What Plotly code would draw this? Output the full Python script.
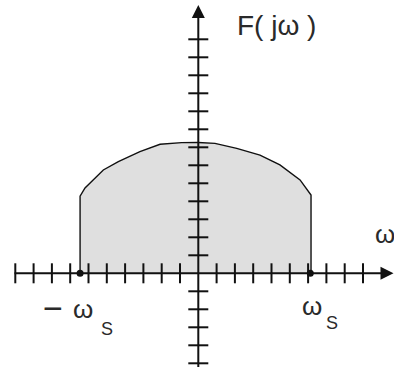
import plotly.graph_objects as go

# Spectrum |F(jω)| of a band-limited signal, in tick units
omega = [-6.46, -6.46, -6.19, -5.19, -4.37, -3.19, -2.09, -0.91, 0.0,
         0.91, 2.10, 3.37, 4.46, 5.56, 6.16, 6.16]
F_mag = [0.0, 4.29, 4.74, 5.74, 6.20, 6.76, 7.17, 7.26, 7.27,
         7.22, 6.94, 6.57, 6.02, 5.19, 4.35, 0.0]

# band edges -ω_s and ω_s
band_edges = [-6.46, 6.12]

# tick marks on both axes
x_ticks = [-10, -9, -8, -7, -6, -5, -4, -3, -2, -1, 1, 2, 3, 4, 5, 6, 7, 8, 9]
y_ticks = [-5, -4, -3, -2, -1, 1, 2, 3, 4, 5, 6, 7, 8, 9, 10, 11, 12, 13]

W, H = 394, 367
X0, Y0 = 198.3, 273.3      # origin in pixels
UX, UY = 18.3, 18.0        # pixels per tick unit

x_range = [-X0 / UX, (W - X0) / UX]
y_range = [-(H - Y0) / UY, Y0 / UY]

INK = "#111111"
TEXT = "#2a2a2a"
FONT = "Liberation Sans, Arial, sans-serif"

fig = go.Figure()

# shaded spectrum
fig.add_trace(go.Scatter(
    x=omega, y=F_mag, mode="lines", fill="toself",
    fillcolor="#dfdfdf", line=dict(color=INK, width=1.4),
    hoverinfo="skip"))

# tick segments
tx, ty = [], []
hx = 10 / UY
for t in x_ticks:
    tx += [t, t, None]
    ty += [-hx, hx, None]
hy = 10 / UX
for t in y_ticks:
    tx += [-hy, hy, None]
    ty += [t, t, None]
fig.add_trace(go.Scatter(x=tx, y=ty, mode="lines",
                         line=dict(color=INK, width=2), hoverinfo="skip"))

# band-edge dots
fig.add_trace(go.Scatter(x=band_edges, y=[0, 0], mode="markers",
                         marker=dict(color=INK, size=7), hoverinfo="skip"))

# axes with arrowheads
fig.add_annotation(x=(393.5 - X0) / UX, y=0, ax=(13 - X0) / UX, ay=0,
                   xref="x", yref="y", axref="x", ayref="y", text="",
                   showarrow=True, arrowhead=2, arrowsize=1.3,
                   arrowwidth=2, arrowcolor=INK)
fig.add_annotation(x=0, y=(Y0 - 5) / UY, ax=0, ay=-(H + 5 - Y0) / UY,
                   xref="x", yref="y", axref="x", ayref="y", text="",
                   showarrow=True, arrowhead=2, arrowsize=1.3,
                   arrowwidth=2, arrowcolor=INK)


def label(text, px, py, size, anchor="left"):
    fig.add_annotation(x=px / W, y=1 - py / H, xref="paper", yref="paper",
                       text=text, showarrow=False, xanchor=anchor,
                       yanchor="middle",
                       font=dict(family=FONT, size=size, color=TEXT))


label("F( jω )", 235, 25, 28)
label("ω", 373, 234, 26)
label("−", 53, 308, 34, anchor="center")
label("ω", 71, 309, 26)
label("S", 99, 329, 18)
label("ω", 300, 306, 26)
label("S", 324, 323, 18)

fig.update_xaxes(range=x_range, visible=False, fixedrange=True)
fig.update_yaxes(range=y_range, visible=False, fixedrange=True)
fig.update_layout(width=W, height=H, margin=dict(l=0, r=0, t=0, b=0),
                  plot_bgcolor="white", paper_bgcolor="white",
                  showlegend=False)

fig.write_html("out.html")
